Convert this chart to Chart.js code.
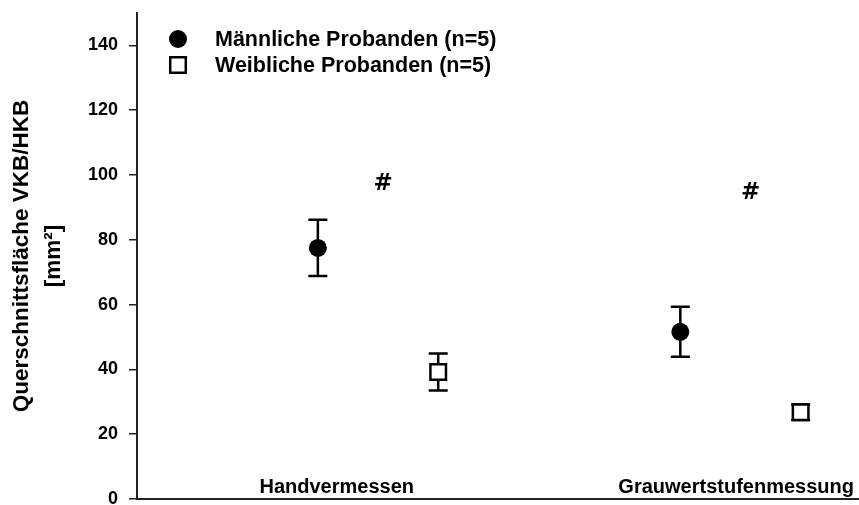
<!DOCTYPE html>
<html>
<head>
<meta charset="utf-8">
<script src="https://cdn.jsdelivr.net/npm/chart.js@4"></script>
<style>
  html, body { margin: 0; padding: 0; background: #fff; overflow: hidden; }
  #wrap { position: relative; width: 859px; height: 505px; }
</style>
</head>
<body>
<div id="wrap"><canvas id="chart"></canvas></div>
<script>
// ── Data ─────────────────────────────────────────────────────────────────────

const categories  = ["Handvermessen", "Grauwertstufenmessung"];
const groupPos    = [1, 2];
const maleMean    = [77.5, 51.6];
const maleSD      = [8.7, 7.7];
const femaleMean  = [39.2, 26.8];
const femaleSD    = [5.7, 2.4];
const hashValues  = [97.3, 94.5];   // "#" significance marks, y value
const yTicks      = [0, 20, 40, 60, 80, 100, 120, 140];
const legendNames = ["Männliche Probanden (n=5)", "Weibliche Probanden (n=5)"];

// ── Layout helpers (not data) ────────────────────────────────────────────────

const OFFSET = 0.166;                      // male left / female right of group
const labelShift = [-0.114, -0.012];       // x-label centre vs group centre
const hashShift  = [0.014, 0.028];
const FONT = "'Liberation Sans', Arial, sans-serif";

// ── Plugins ──────────────────────────────────────────────────────────────────

const errorBars = {
  id: "errorBars",
  beforeDatasetsDraw(chart) {
    const { ctx, scales: { x, y } } = chart;
    ctx.save();
    ctx.strokeStyle = "#000";
    ctx.lineWidth = 2.5;
    chart.data.datasets.forEach(ds => {
      ds.data.forEach((p, i) => {
        const px = x.getPixelForValue(p.x);
        const top = y.getPixelForValue(p.y + ds.errors[i]);
        const bot = y.getPixelForValue(p.y - ds.errors[i]);
        ctx.beginPath();
        ctx.moveTo(px, top); ctx.lineTo(px, bot);
        ctx.moveTo(px - 9.5, top); ctx.lineTo(px + 9.5, top);
        ctx.moveTo(px - 9.5, bot); ctx.lineTo(px + 9.5, bot);
        ctx.stroke();
      });
    });
    ctx.restore();
  }
};

const annotations = {
  id: "annotations",
  afterDatasetsDraw(chart) {
    const { ctx, chartArea, scales: { x, y } } = chart;
    ctx.save();
    ctx.fillStyle = "#000";

    // category labels sit inside the plot, just above the x axis
    ctx.font = `bold 20px ${FONT}`;
    ctx.textAlign = "center";
    ctx.textBaseline = "alphabetic";
    categories.forEach((c, i) => {
      ctx.fillText(c, x.getPixelForValue(groupPos[i] + labelShift[i]), chartArea.bottom - 6);
    });

    // significance marks
    ctx.font = "bold 23px 'DejaVu Sans', sans-serif";
    ctx.textBaseline = "middle";
    hashValues.forEach((v, i) => {
      ctx.fillText("#", x.getPixelForValue(groupPos[i] + hashShift[i]), y.getPixelForValue(v));
    });

    // legend
    const lx = chartArea.left + 41;
    const rows = [chartArea.top + 26, chartArea.top + 52];
    chart.data.datasets.forEach((ds, i) => {
      ctx.fillStyle = ds.backgroundColor;
      ctx.strokeStyle = ds.borderColor;
      ctx.lineWidth = ds.borderWidth;
      Chart.helpers.drawPoint(ctx, {
        pointStyle: ds.pointStyle, radius: ds.pointRadius,
        borderWidth: ds.borderWidth, rotation: 0
      }, lx, rows[i]);
      ctx.fillStyle = "#000";
      ctx.font = `bold 21.5px ${FONT}`;
      ctx.textAlign = "left";
      ctx.fillText(legendNames[i], lx + 37, rows[i] + 1);
    });
    ctx.restore();
  }
};

// ── Chart ────────────────────────────────────────────────────────────────────

new Chart(document.getElementById("chart"), {
  type: "scatter",
  data: {
    datasets: [
      {
        label: legendNames[0],
        data: groupPos.map((g, i) => ({ x: g - OFFSET, y: maleMean[i] })),
        errors: maleSD,
        pointStyle: "circle",
        pointRadius: 9,
        backgroundColor: "#000",
        borderColor: "#000",
        borderWidth: 0
      },
      {
        label: legendNames[1],
        data: groupPos.map((g, i) => ({ x: g + OFFSET, y: femaleMean[i] })),
        errors: femaleSD,
        pointStyle: "rect",
        pointRadius: 11,
        backgroundColor: "#fff",
        borderColor: "#000",
        borderWidth: 2.5
      }
    ]
  },
  options: {
    responsive: true,
    maintainAspectRatio: false,
    animation: false,
    layout: { autoPadding: false, padding: { top: 13, right: 0, bottom: 6, left: 0 } },
    plugins: { legend: { display: false }, tooltip: { enabled: false } },
    scales: {
      x: {
        type: "linear",
        min: 0.335,
        max: 2.327,
        grid: { display: false, drawTicks: false },
        ticks: { display: false },
        border: { display: true, color: "#222", width: 2 },
        afterFit: s => { s.height = 0; }
      },
      y: {
        min: 0,
        max: 150,
        afterBuildTicks: s => { s.ticks = yTicks.map(v => ({ value: v })); },
        grid: { drawOnChartArea: false, drawTicks: true, tickLength: 8, color: "#222", lineWidth: 1.5 },
        border: { display: true, color: "#222", width: 2 },
        ticks: { color: "#000", padding: 11, font: { family: FONT, size: 18, weight: "bold" } },
        title: {
          display: true,
          text: ["Querschnittsfläche VKB/HKB", "[mm²]"],
          color: "#000",
          font: { family: FONT, size: 22.5, weight: "bold", lineHeight: 1.45 },
          padding: { top: 5, bottom: 0 }
        },
        afterFit: s => { s.width = 137; s.paddingTop = 0; s.paddingBottom = 0; }
      }
    }
  },
  plugins: [errorBars, annotations]
});
</script>
</body>
</html>
